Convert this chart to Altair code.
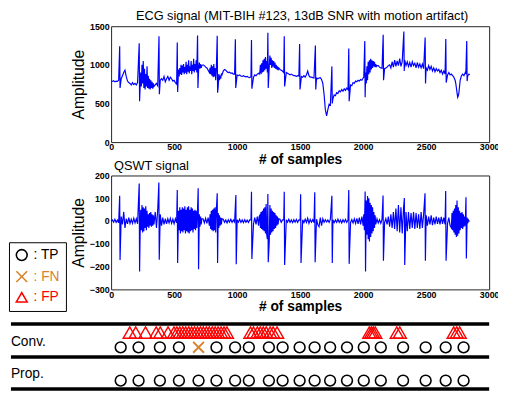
import altair as alt
import pandas as pd

FONT = "Liberation Sans"
BLUE = "#0000ff"
ORANGE = "#d9822b"
RED = "#ff0000"

# ---------------- ECG signal ----------------
# segments: (start sample, step, values)
ecg_seg1 = (0, 10, [790, 785, 795, 780, 790, 785, 800, 790, 820, 860, 900, 930, 850, 790, 770, 760, 740, 770, 745, 760, 740, 770])
ecg_seg2 = (225, 5, [820, 700, 900, 720, 1000, 760, 1050, 700, 950, 680, 880, 720, 980, 700, 860, 690, 820, 680, 800, 700, 780, 690, 760, 720])
ecg_seg3 = (350, 10, [740, 760, 730, 780, 800, 820, 800, 850, 780, 820, 850, 800, 840, 820, 790, 800, 770, 750])
ecg_seg4 = (535, 5, [940, 850, 960, 880, 1000, 870, 990, 900, 1010, 880, 970, 900, 1040, 880, 1000, 910, 1060, 890, 980, 920,
                     1050, 880, 1000, 920, 1080, 900, 1010, 930, 1060, 900, 980, 1050, 960, 1030, 950, 1010, 960, 990])
ecg_seg5 = (730, 10, [1000, 990, 970, 960, 930, 900])
ecg_seg6 = (785, 5, [960, 880, 1000, 860, 980, 840, 1010, 850, 960, 800, 940, 760, 900, 720, 880, 800, 860, 820, 880, 870])
ecg_seg7 = (890, 10, [920, 940, 930, 910, 900, 905, 890, 895, 880, 880, 875, 870, 860, 870, 855, 850, 860, 850, 845, 850,
                      840, 835, 850, 860, 840, 870, 860, 880, 890])
ecg_seg8 = (1175, 5, [880, 900, 1000, 880, 1020, 900, 1060, 910, 1080, 930, 1100, 950, 1050, 900, 1120, 1150, 980, 1120, 1000, 1090,
                      960, 1060, 980, 1050, 960, 1030, 950, 1000, 940, 980, 930, 960])
ecg_seg9 = (1340, 10, [940, 930, 920, 900, 890, 900, 890, 880, 870, 880, 870, 860, 860, 850, 860, 855, 850, 850, 840, 860,
                       840, 870, 920, 860, 840, 840, 835, 830, 835, 830, 820, 830, 835])
ecg_seg10 = (1670, 10, [810, 760, 620, 420, 340, 420, 490, 480, 540, 560, 610, 600, 640, 630, 665, 650, 680, 660, 690, 670,
                        700, 680, 720, 740, 730, 770, 760, 790, 780, 800, 790, 810, 800, 830])
ecg_seg11 = (2005, 5, [840, 820, 640, 900, 760, 980, 800, 1040, 880, 1060, 900, 1080, 940, 1060, 960, 1050, 980, 1040, 970, 1010, 980, 990])
ecg_seg12 = (2120, 10, [990, 970, 960, 955, 950, 950, 960, 970, 990])
ecg_seg13 = (2210, 10, [1000, 960, 1040, 970, 1060, 980, 1050, 990, 1080, 980, 1040, 1000, 1060, 990, 1040, 980, 1030, 970, 1040, 990,
                        1020, 960, 1030, 970, 1010, 960, 1010, 950, 980, 960, 930, 990, 940, 980, 920, 960, 910, 950, 920, 940,
                        900, 930, 880, 920, 880, 910, 870, 900, 870, 880])
ecg_seg14 = (2710, 5, [860, 850, 840, 820, 800, 760, 700, 640, 580, 600, 640, 720, 800, 830, 860, 870, 880, 870, 860, 880,
                       900, 880, 870, 880, 860, 870, 880, 870])
ecg_segments = [ecg_seg1, ecg_seg2, ecg_seg3, ecg_seg4, ecg_seg5, ecg_seg6, ecg_seg7,
                ecg_seg8, ecg_seg9, ecg_seg10, ecg_seg11, ecg_seg12, ecg_seg13, ecg_seg14]
# R-peaks: (sample, peak value, trough value)
ecg_spikes = [(68, 1240, 700), (223, 1280, 530), (380, 1370, 620), (525, 1290, 650), (686, 1380, 700),
              (842, 1375, 640), (986, 1330, 700), (1114, 1320, 690), (1244, 1415, 700), (1374, 1370, 720),
              (1496, 1270, 680), (1621, 1250, 680), (1752, 980, 500), (1886, 1210, 530), (2013, 1310, 580),
              (2159, 1390, 800), (2323, 1430, 920), (2492, 1355, 760), (2656, 1335, 770), (2822, 1310, 790)]

# ---------------- QSWT signal ----------------
q_seg1 = (0, 10, [0, 5, -5, 8, -6, 4, -8, 5, 20, -15, 40, -30, 10, -12, 15, -10, 8, -10, 12, -8, 10, -12])
q_seg2 = (230, 5, [-60, 50, -40, 70, -50, 60, -45, 55, -30, 65, -40, 45, -25, 30, -30, 35, -20, 40, -25, 30, -20, 25, -15])
q_seg3 = (350, 10, [40, -30, 50, 20, 30, -20, 15, -15, 10, -12, 10, -8, 12, -10, 8, -12, 10, -8])
q_seg4 = (530, 5, [-50, 45, -40, 60, -55, 50, -45, 60, -50, 55, -40, 65, -55, 50, -45, 60, -50, 65, -55, 50,
                   -45, 60, -40, 55, -50, 45, -35, 50, -40, 45, -30, 35, 40, -35, 30, -25, 20, -15, 10])
q_seg5 = (730, 10, [10, -8, 12, -10, 15, -20])
q_seg6 = (785, 5, [30, -35, 45, -40, 50, -45, 55, -40, 60, -50, 45, -40, -40, 35, -30, 25, -20, 15, -15, 10])
q_seg7 = (890, 10, [8, -6, 5, -8, 6, -5, 8, -6, 5, -4, 6, 6, -5, 8, -6, 5, -7, 6, -5, 4, -6, 5, 6, 10, -12, 15, -15, 20, -20])
q_seg8 = (1175, 5, [20, 25, -30, 40, -35, 45, -40, 55, -45, 60, -55, 75, -60, -80, 70, 90, -90, 70, -60, 55,
                    -50, 45, -45, 40, -35, 35, -30, 25, -20, 20, -15, 10])
q_seg9 = (1340, 10, [8, -6, 5, 6, -8, 6, -5, 8, -6, 5, -7, 6, -5, 7, -6, 5, 4, -8, 6, -7,
                     8, -6, 12, -10, 7, -5, 6, -6, 5, 8, -15, -25, 15, -20, 10])
q_seg10 = (1690, 10, [-5, 6, -4, 5, -6, 8, -5, 6, -7, 5, -6, 8, -6, 5, -8, 6, -5, 7, -6, 5,
                      8, -7, 6, -8, 10, -10, 12, -12, 15, -15, 20, -20])
q_seg11 = (2005, 5, [30, -40, -30, 40, 90, -60, 110, -80, 100, -90, 80, -70, 70, -55, 60, -45, 40, -30, 25, -15])
q_seg12 = (2110, 10, [10, -8, 6, -10, 8, 6, -6, 10, -15])
q_seg13 = (2200, 10, [20, -25, 30, -30, 40, -35, 55, -45, 70, -50,
                      60, -55, 50, -40, 40, -45, 40, -35, 35, -30,
                      40, -35, 35, -30, 30, -35, 40, -30, 30, -25,
                      25, -20, 20, -15, 25, -18, 15, -15, 20, -12,
                      15, -15, 18, -12, 15, -15, 10, -10, 15, -20, -30])
q_seg14 = (2705, 5, [35, -40, 45, -50, 55, -60, 70, -70, 90, -65, 60, -55, 45, -40, 35, -30, 40, -35, 30, -25,
                     20, -20, 15, 20, 15, -10, 5, 0, 0])
q_segments = [q_seg1, q_seg2, q_seg3, q_seg4, q_seg5, q_seg6, q_seg7,
              q_seg8, q_seg9, q_seg10, q_seg11, q_seg12, q_seg13, q_seg14]
q_spikes = [(68, 111, -171), (223, 165, -221), (379, 169, -170), (525, 136, -184), (691, 144, -212),
            (842, 122, -184), (990, 114, -190), (1114, 129, -167), (1244, 119, -181), (1374, 129, -193),
            (1504, 118, -184), (1616, 126, -181), (1752, 111, -184), (1886, 136, -188), (2016, 130, -221),
            (2158, 112, -174), (2327, 101, -193), (2491, 122, -174), (2655, 132, -174), (2816, 104, -164)]

# ---------------- detection results ----------------
conv_tp = [76, 218, 387, 538, 836, 984, 1093, 1252, 1361, 1496, 1615, 1738, 1872, 2005, 2140, 2317, 2496, 2655, 2797]
conv_fn = [694]
conv_fp = [148, 195, 273, 358, 390, 452, 499, 522, 545, 569, 592, 616, 639, 662, 686, 709, 732, 756, 779, 803,
           826, 849, 873, 896, 919, 1106, 1130, 1161, 1184, 1208, 1231, 1262, 1286, 1317,
           2049, 2065, 2080, 2096, 2267, 2291, 2719, 2743, 2766]
prop_tp = [76, 218, 387, 538, 694, 836, 984, 1093, 1252, 1361, 1496, 1615, 1738, 1872, 2005, 2140, 2317, 2496, 2655, 2797]

ECG_TITLE = "ECG signal (MIT-BIH #123, 13dB SNR with motion artifact)"
QSWT_TITLE = "QSWT signal"
X_TITLE = "# of samples"
Y_TITLE = "Amplitude"
x_ticks = [0, 500, 1000, 1500, 2000, 2500, 3000]
ecg_ticks = [0, 500, 1000, 1500]
q_ticks = [-300, -200, -100, 0, 100, 200]


def build(segments, spikes):
    pts = []
    for start, step, vals in segments:
        for i, v in enumerate(vals):
            pts.append((start + i * step, v))
    pts = [p for p in pts if not any(s - 3 <= p[0] <= s + 6 for s, _, _ in spikes)]
    for s, top, bot in spikes:
        pts.append((s, top))
        pts.append((s + 3, bot))
    pts.sort()
    return pd.DataFrame(pts, columns=["sample", "value"])


ecg_df = build(ecg_segments, ecg_spikes)
q_df = build(q_segments, q_spikes)

det_rows = ([("Conv", "TP", s) for s in conv_tp] + [("Conv", "FN", s) for s in conv_fn] +
            [("Conv", "FP", s) for s in conv_fp] + [("Prop", "TP", s) for s in prop_tp])
det_df = pd.DataFrame(det_rows, columns=["method", "type", "sample"])

W = 385


def x_axis():
    return alt.Axis(values=x_ticks, format="d", title=X_TITLE, labelFontSize=9, labelFontWeight="bold",
                    labelFlush=False, labelOverlap=False, ticks=False, domain=False, grid=False,
                    labelPadding=1, titleFontSize=14, titleFontWeight="bold", titlePadding=1)


def y_axis(vals):
    return alt.Axis(values=vals, format="d", title=Y_TITLE, labelFontSize=9, labelFontWeight="bold",
                    labelOverlap=False, ticks=False, domain=False, grid=False, labelPadding=2,
                    titleFontSize=16, titleFontWeight="normal", titlePadding=3)


xscale = alt.Scale(domain=[0, 3000], nice=False)

ecg_chart = alt.Chart(ecg_df).mark_line(color=BLUE, strokeWidth=1.2).encode(
    x=alt.X("sample:Q", scale=xscale, axis=x_axis()),
    y=alt.Y("value:Q", scale=alt.Scale(domain=[0, 1500], nice=False), axis=y_axis(ecg_ticks)),
).properties(width=W, height=118,
             title=alt.TitleParams(ECG_TITLE, fontSize=13, fontWeight="normal", anchor="middle", frame="group",
                                   baseline="alphabetic", offset=-11, dx=2))

q_chart = alt.Chart(q_df).mark_line(color=BLUE, strokeWidth=1.2).encode(
    x=alt.X("sample:Q", scale=xscale, axis=x_axis()),
    y=alt.Y("value:Q", scale=alt.Scale(domain=[-300, 200], nice=False), axis=y_axis(q_ticks)),
).properties(width=W, height=116,
             title=alt.TitleParams(QSWT_TITLE, fontSize=13, fontWeight="normal", anchor="start", frame="group",
                                   baseline="alphabetic", offset=-11, dx=3))

legend = alt.Legend(title=None, orient="none", legendX=-104, legendY=220, direction="vertical",
                    strokeColor="black", fillColor="white", padding=6, cornerRadius=0,
                    symbolSize=121, symbolStrokeWidth=1.6, labelFontSize=14, labelFont=FONT,
                    labelExpr="': ' + datum.label", labelOffset=5, rowPadding=4,
                    labelColor=alt.ExprRef(expr="datum.value == 'TP' ? '#000000' : (datum.value == 'FN' ? '"
                                           + ORANGE + "' : '" + RED + "')"))
color = alt.Color("type:N", scale=alt.Scale(domain=["TP", "FN", "FP"], range=["#000000", ORANGE, RED]),
                  legend=legend)
shape = alt.Shape("type:N", scale=alt.Scale(domain=["TP", "FN", "FP"],
                                            range=["circle", "M-1,-1L1,1M-1,1L1,-1", "triangle-up"]),
                  legend=legend)
px = alt.X("sample:Q", scale=xscale, axis=None)
py = alt.Y("method:N", scale=alt.Scale(domain=["Conv", "Prop"], range=[25, 58.9], padding=0), axis=None)

base = alt.Chart(det_df)
fp_layer = base.transform_filter("datum.type == 'FP'").mark_point(
    filled=False, size=180, strokeWidth=1.4, yOffset=-15, opacity=1).encode(x=px, y=py, color=color, shape=shape)
tp_layer = base.transform_filter("datum.type == 'TP'").mark_point(
    filled=False, size=121, strokeWidth=1.6, opacity=1).encode(x=px, y=py, color=color, shape=shape)
fn_layer = base.transform_filter("datum.type == 'FN'").mark_point(
    filled=False, size=121, strokeWidth=2, opacity=1).encode(x=px, y=py, color=color, shape=shape)

one = pd.DataFrame({"k": [0]})
rules = [alt.Chart(one).mark_rule(color="black", strokeWidth=3.5).encode(
    x=alt.value(-102), x2=alt.value(W), y=alt.value(yy)) for yy in (1.3, 34.8, 67.5)]
texts = [alt.Chart(one).mark_text(text=t, align="left", baseline="middle", fontSize=14, font=FONT,
                                  color="black").encode(x=alt.value(-102), y=alt.value(yy))
         for t, yy in (("Conv.", 19.6), ("Prop.", 51.8))]

det_chart = alt.layer(*rules, *texts, fp_layer, tp_layer, fn_layer).properties(
    width=W, height=68, view=alt.ViewBackground(stroke="transparent"))

chart = alt.vconcat(ecg_chart, q_chart, det_chart, spacing=34, bounds="flush").properties(
    padding={"left": 0, "top": -2, "right": -2, "bottom": 0}
).configure_view(stroke="#222222", strokeWidth=1).configure_axis(
    labelFont=FONT, titleFont=FONT, labelColor="black", titleColor="black"
).configure_title(font=FONT, color="black")

chart.save("out.html", embed_options={"renderer": "svg", "actions": False})
